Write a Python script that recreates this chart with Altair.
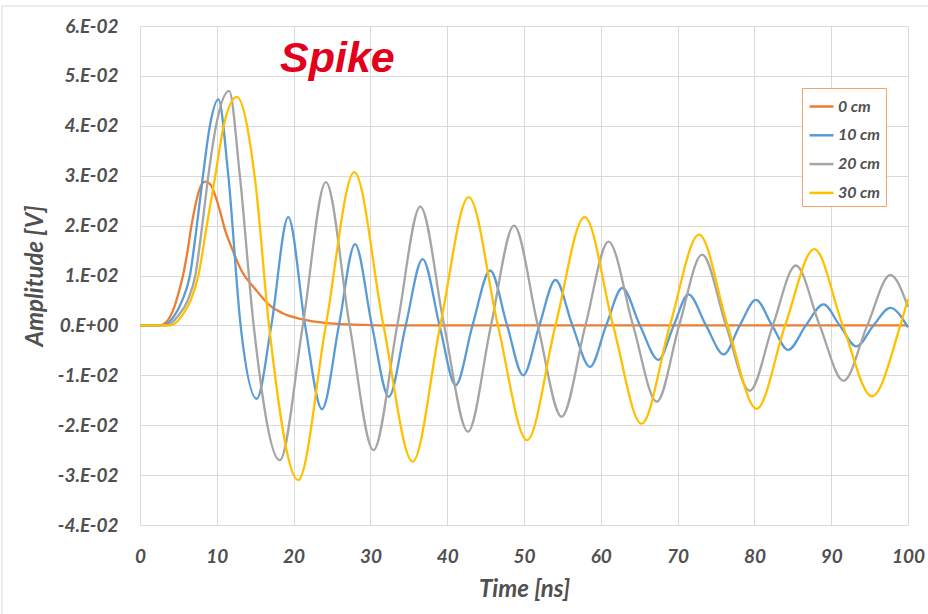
import altair as alt
import pandas as pd

# ---- data ----
series_names = ["0 cm", "10 cm", "20 cm", "30 cm"]
series_colors = ["#ED7D31", "#5B9BD5", "#A5A5A5", "#FFC000"]

orange_t = [0, 2.5, 3.6, 4.3, 5.0, 5.6, 6.2, 6.7, 7.2, 7.8, 8.5, 9.2, 9.8, 10.4, 11.1, 11.9,
            13.2, 15.0, 16.9, 18.5, 20.6, 22.5, 24.1, 27.0, 29.3, 32.0, 100]
orange_v = [0, 0, 0.001, 0.003, 0.0064, 0.010, 0.015, 0.020, 0.024, 0.0275, 0.0288, 0.0282,
            0.026, 0.023, 0.019, 0.0157, 0.011, 0.0073, 0.004, 0.0025, 0.0014, 0.0008, 0.0005,
            0.0002, 0.0001, 0, 0]

blue_t = [0, 3.0, 4.5, 5.5, 6.5, 7.4, 8.2, 9.1, 10.2, 11.5, 13.1, 15.2, 17.1, 19.3, 21.5, 23.7,
          25.9, 28.0, 30.2, 32.4, 34.6, 36.8, 39.0, 41.1, 43.3, 45.6, 47.8, 49.9, 52.0, 54.1,
          56.3, 58.6, 60.7, 62.8, 65.1, 67.5, 69.5, 71.4, 73.7, 76.0, 78.1, 80.2, 82.3, 84.4,
          86.7, 89.0, 91.1, 93.3, 95.5, 97.7, 100]
blue_v = [0, 0, 0.002, 0.005, 0.010, 0.020, 0.030, 0.040, 0.0453, 0.030, 0, -0.0147, 0, 0.0217,
          0, -0.0168, 0, 0.0163, 0, -0.0143, 0, 0.0133, 0, -0.012, 0, 0.011, 0, -0.010, 0,
          0.0091, 0, -0.0083, 0, 0.0075, 0, -0.0069, 0, 0.0062, 0, -0.0058, 0, 0.0051, 0,
          -0.0049, 0, 0.0042, 0, -0.0042, 0, 0.0035, -0.0004]

gray_t = [0, 3.5, 5.0, 6.2, 7.2, 8.1, 8.9, 9.9, 11.6, 13.0, 14.8, 18.2, 21.2, 24.2, 27.3, 30.4,
          33.5, 36.5, 39.6, 42.7, 45.7, 48.7, 51.8, 54.9, 58.0, 61.0, 64.2, 67.3, 70.2, 73.2,
          76.3, 79.4, 82.4, 85.4, 88.5, 91.6, 94.7, 97.7, 100]
gray_v = [0, 0, 0.002, 0.005, 0.010, 0.020, 0.030, 0.040, 0.047, 0.030, 0, -0.027, 0, 0.0287,
          0, -0.025, 0, 0.0238, 0, -0.0213, 0, 0.020, 0, -0.0183, 0, 0.0168, 0, -0.0153, 0,
          0.0142, 0, -0.0131, 0, 0.012, 0, -0.0111, 0, 0.0101, 0.0037]

yellow_t = [0, 4.0, 5.5, 6.6, 7.6, 8.7, 9.8, 10.9, 12.6, 15.0, 16.8, 20.6, 24.2, 27.9, 31.7,
            35.5, 39.1, 42.8, 46.6, 50.4, 54.1, 57.9, 61.6, 65.3, 69.0, 72.8, 76.5, 80.3, 84.0,
            87.8, 91.5, 95.3, 99.0, 100]
yellow_v = [0, 0, 0.002, 0.005, 0.010, 0.020, 0.030, 0.040, 0.0458, 0.029, 0, -0.031, 0, 0.0307,
            0, -0.0273, 0, 0.0257, 0, -0.023, 0, 0.0217, 0, -0.0197, 0, 0.0182, 0, -0.0167, 0,
            0.0153, 0, -0.0142, 0, 0.0053]

x_ticks = [0, 10, 20, 30, 40, 50, 60, 70, 80, 90, 100]
y_ticks = [-0.04, -0.03, -0.02, -0.01, 0, 0.01, 0.02, 0.03, 0.04, 0.05, 0.06]
title_text = "Spike"

# ---- build table ----
rows = []
for name, ts, vs in zip(series_names, [orange_t, blue_t, gray_t, yellow_t],
                        [orange_v, blue_v, gray_v, yellow_v]):
    for i, (t, v) in enumerate(zip(ts, vs)):
        rows.append({"series": name, "t": t, "v": v, "i": i})
df = pd.DataFrame(rows)

FONT = "Lato"
LABEL_COLOR = "#505050"

border = alt.Chart(pd.DataFrame({"k": [0]})).mark_rect(
    fill="white", fillOpacity=0, stroke="#D9D9D9", strokeWidth=1
).encode(
    x=alt.value(-138), y=alt.value(-20), x2=alt.value(795), y2=alt.value(595)
)

lines = alt.Chart(df).mark_line(strokeWidth=2.3, interpolate="monotone").encode(
    x=alt.X("t:Q", scale=alt.Scale(domain=[0, 100], nice=False, zero=False),
            axis=alt.Axis(values=x_ticks, title="Time [ns]", labelPadding=22,
                          titlePadding=11, labelFlush=False)),
    y=alt.Y("v:Q", scale=alt.Scale(domain=[-0.04, 0.06], nice=False, zero=False),
            axis=alt.Axis(values=y_ticks, title="Amplitude [V]", labelPadding=22,
                          titlePadding=10,
                          labelExpr="datum.value == 0 ? '0.E+00' : (datum.value < 0 ? '-' : '') + abs(round(datum.value*100)) + '.E-02'")),
    color=alt.Color("series:N",
                    scale=alt.Scale(domain=series_names, range=series_colors),
                    legend=alt.Legend(title=None, orient="none", legendX=662, legendY=62,
                                      direction="vertical", symbolType="stroke",
                                      symbolSize=576, symbolStrokeWidth=2.5,
                                      labelFont=FONT, labelFontSize=16,
                                      labelFontStyle="italic", labelFontWeight="bold",
                                      labelColor=LABEL_COLOR, strokeColor="#F4A36A",
                                      fillColor="white", padding=5, rowPadding=6.8,
                                      labelOffset=3, symbolOffset=1)),
    order="i:Q",
)

title_layer = alt.Chart(pd.DataFrame({"label": [title_text]})).mark_text(
    font="Liberation Sans", fontSize=43, fontStyle="italic", fontWeight="bold",
    color="#E2001A", align="left", baseline="alphabetic"
).encode(x=alt.value(140), y=alt.value(46), text="label:N")

chart = alt.layer(border, lines, title_layer).properties(
    width=768, height=499,
    autosize=alt.AutoSizeParams(type="none"),
    padding={"left": 140, "top": 26, "right": 20, "bottom": 89},
    background="white",
).configure_view(stroke=None).configure_axis(
    labelFont=FONT, labelFontSize=19, labelFontStyle="italic", labelFontWeight="bold",
    labelColor=LABEL_COLOR, titleFont=FONT, titleFontSize=24, titleFontStyle="italic",
    titleFontWeight="bold", titleColor=LABEL_COLOR, gridColor="#D9D9D9", gridWidth=1,
    domain=False, ticks=False, tickSize=0,
)

chart.save("out.html", embed_options={"renderer": "svg", "actions": False})
